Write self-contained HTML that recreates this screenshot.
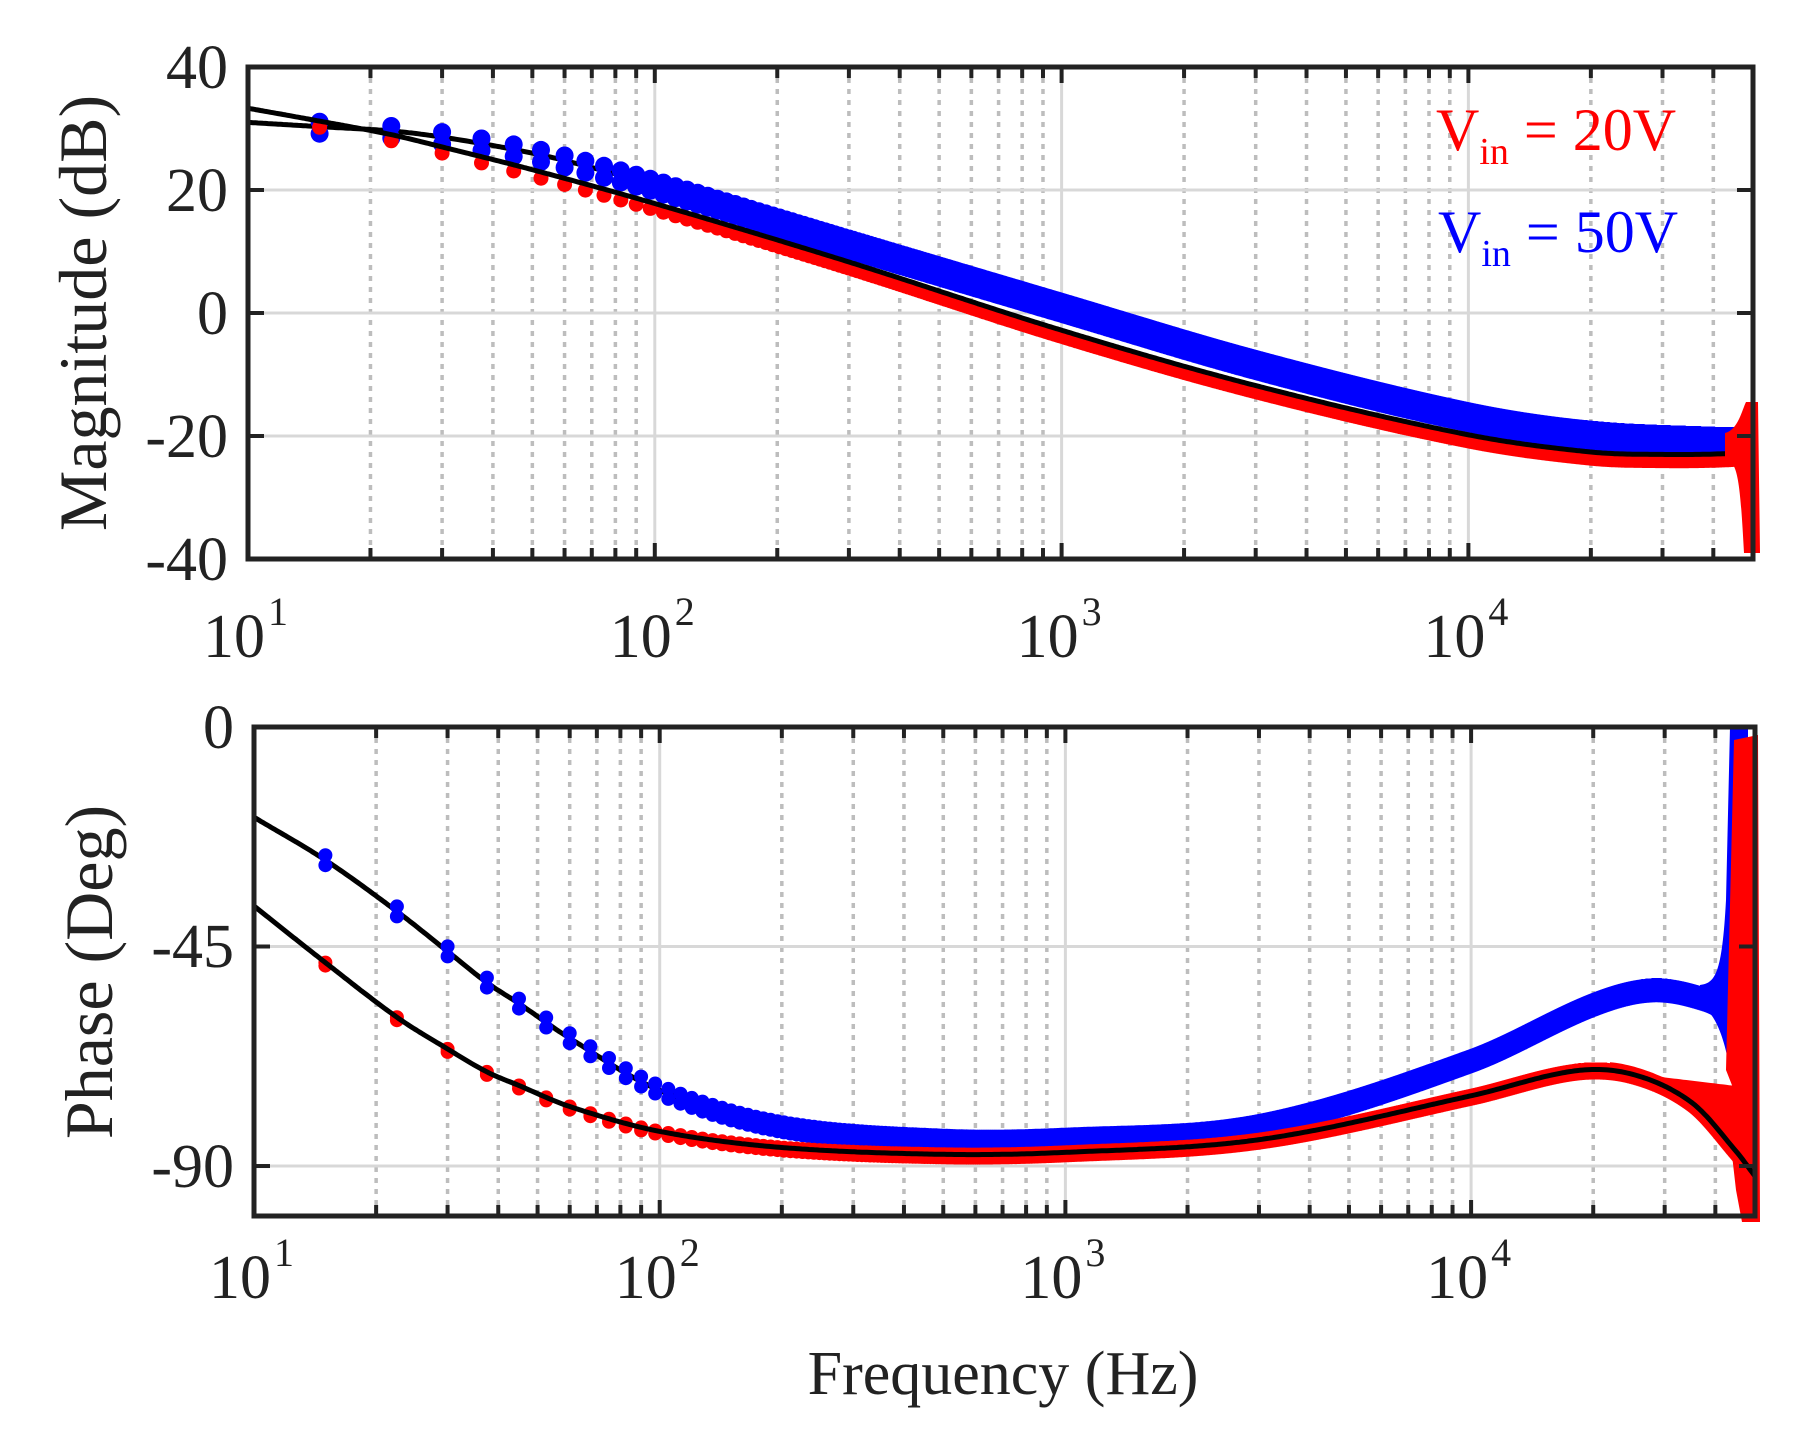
<!DOCTYPE html>
<html><head><meta charset="utf-8">
<style>
html,body{margin:0;padding:0;background:#fff;}
svg{display:block;}
text{font-family:"Liberation Serif",serif;fill:#222;}
</style></head>
<body>
<svg id="s" width="1800" height="1430" viewBox="0 0 1800 1430" xmlns="http://www.w3.org/2000/svg">
<g id="grid"></g>
<g id="data"></g>
<g id="frame"></g>
<g font-size="62">
<text x="228" y="88" text-anchor="end">40</text>
<text x="228" y="211" text-anchor="end">20</text>
<text x="228" y="334" text-anchor="end">0</text>
<text x="228" y="457" text-anchor="end">-20</text>
<text x="228" y="580" text-anchor="end">-40</text>
<text x="234" y="748" text-anchor="end">0</text>
<text x="234" y="967" text-anchor="end">-45</text>
<text x="234" y="1187" text-anchor="end">-90</text>
</g>
<g font-size="62" id="xl"></g>
<text font-size="68" transform="translate(106,313) rotate(-90)" text-anchor="middle">Magnitude (dB)</text>
<text font-size="68" transform="translate(112,972) rotate(-90)" text-anchor="middle">Phase (Deg)</text>
<text font-size="62" x="1003" y="1394" text-anchor="middle">Frequency (Hz)</text>
<text font-size="60" x="1436" y="150" style="fill:#f00">V<tspan font-size="38" dy="14">in</tspan><tspan dy="-14"> = 20V</tspan></text>
<text font-size="60" x="1438" y="252" style="fill:#00f">V<tspan font-size="38" dy="14">in</tspan><tspan dy="-14"> = 50V</tspan></text>
</svg>
<script>
const NS="http://www.w3.org/2000/svg";
function el(p,t,a){const e=document.createElementNS(NS,t);for(const k in a)e.setAttribute(k,a[k]);p.appendChild(e);return e;}
const P=[{x0:248,x1:1753,y0:67,y1:559,X:f=>248+(Math.log10(f)-1)*406.8,Y:v=>313-v*6.15,yt:[40,20,0,-20,-40]},
         {x0:254,x1:1755,y0:727,y1:1216,X:f=>254+(Math.log10(f)-1)*405.7,Y:v=>727-v*4.878,yt:[0,-45,-90]}];
const G=document.getElementById('grid'),D=document.getElementById('data'),F=document.getElementById('frame'),XL=document.getElementById('xl');
P.forEach((p,i)=>{
  for(let d=1;d<=4;d++)for(let m=1;m<=9;m++){
    const f=m*Math.pow(10,d);const x=p.X(f);if(x>p.x1-2)continue;
    if(m==1){ if(d>1) el(G,'line',{x1:x,x2:x,y1:p.y0,y2:p.y1,stroke:'#d8d8d8','stroke-width':3});}
    else el(G,'line',{x1:x,x2:x,y1:p.y0,y2:p.y1,stroke:'#bdbdbd','stroke-width':3.5,'stroke-dasharray':'5 6'});
    const L=m==1?16:11;
    el(F,'line',{x1:x,x2:x,y1:p.y0,y2:p.y0+L,stroke:'#222','stroke-width':4});
    el(F,'line',{x1:x,x2:x,y1:p.y1,y2:p.y1-L,stroke:'#222','stroke-width':4});
  }
  p.yt.forEach(v=>{const y=p.Y(v);
    if(y>p.y0+3&&y<p.y1-3) el(G,'line',{x1:p.x0,x2:p.x1,y1:y,y2:y,stroke:'#d8d8d8','stroke-width':3});
    el(F,'line',{x1:p.x0,x2:p.x0+16,y1:y,y2:y,stroke:'#222','stroke-width':4});
    el(F,'line',{x1:p.x1,x2:p.x1-16,y1:y,y2:y,stroke:'#222','stroke-width':4});});
  el(F,'rect',{x:p.x0,y:p.y0,width:p.x1-p.x0,height:p.y1-p.y0,fill:'none',stroke:'#222','stroke-width':5});
  const by=i==0?657:1298;
  [1,2,3,4].forEach(d=>{const x=p.X(Math.pow(10,d));
    const t=el(XL,'text',{x:x-14,y:by,'text-anchor':'middle'});t.textContent='10';
    const s=el(XL,'text',{x:x+20,y:by-32,'font-size':40});s.textContent=String(d);});
});
function interp(pts){const xs=pts.map(p=>Math.log10(p[0])),ys=pts.map(p=>p[1]);
 return f=>{const x=Math.log10(f);let i=0;while(i<xs.length-2&&x>xs[i+1])i++;
  const t=(x-xs[i])/(xs[i+1]-xs[i]);
  const y0=ys[Math.max(i-1,0)],y1=ys[i],y2=ys[i+1],y3=ys[Math.min(i+2,ys.length-1)];
  const x0=xs[Math.max(i-1,0)],x3=xs[Math.min(i+2,xs.length-1)];
  const m1=(y2-y0)/(xs[i+1]-x0)*(xs[i+1]-xs[i]),m2=(y3-y1)/(x3-xs[i])*(xs[i+1]-xs[i]);
  const t2=t*t,t3=t2*t;
  return (2*t3-3*t2+1)*y1+(t3-2*t2+t)*m1+(-2*t3+3*t2)*y2+(t3-t2)*m2;};}
const magR=interp([[10,33.3],[15,31.2],[22.5,29],[30,27],[50,23.3],[100,17.8],[300,8.3],[1000,-2.8],[3000,-11.8],[10000,-19.8],[20000,-22.6],[30000,-23],[45000,-22.8],[50000,-22.2]]);
const magB=interp([[10,31],[15,30.3],[22.5,29.6],[30,28.6],[45,26.6],[60,24.8],[100,20.8],[300,11.3],[1000,1],[3000,-8.3],[10000,-16.8],[20000,-19.8],[40000,-20.8],[50000,-20.8]]);
const phB=interp([[10,-18.5],[15,-27.3],[22.5,-37.8],[30,-46],[37.5,-52.4],[45,-56.7],[60,-63.8],[100,-74.5],[200,-82],[500,-84.8],[1000,-84.6],[3000,-81.8],[10000,-68.5],[20000,-57],[28000,-54],[38000,-56],[45000,-59.5],[48000,-61]]);
const phR=interp([[10,-36.7],[15,-48.3],[22.5,-59.5],[30,-66],[37.5,-70.7],[45,-73.5],[60,-77.8],[100,-82.9],[200,-86.2],[500,-87.6],[1000,-87.2],[3000,-84.6],[10000,-75.6],[18000,-70.5],[25000,-71.2],[35000,-77],[45000,-87],[50000,-92]]);
function line(p,fn,fa,fb,w,c){let d='';for(let i=0;i<=600;i++){const f=fa*Math.pow(fb/fa,i/600);d+=(i?'L':'M')+p.X(f).toFixed(1)+' '+p.Y(fn(f)).toFixed(1);}
 el(D,'path',{d:d,fill:'none',stroke:c,'stroke-width':w,'stroke-linejoin':'round'});}
function dots(p,fn,off,c,w){let d='';for(let f=15;f<=48500;f+=7.5){const x=p.X(f).toFixed(1);
  off.forEach(o=>{d+='M'+x+' '+(p.Y(fn(f))+o).toFixed(1)+'h0';});}
 el(D,'path',{d:d,stroke:c,'stroke-width':w,'stroke-linecap':'round',fill:'none'});}
const T=P[0],B=P[1];
// magnitude
line(T,magB,10,50000,5,'#000');
dots(T,magB,[-5,7],'#0000ff',18);
dots(T,f=>magR(f)-1,[0],'#ff0000',15);
line(T,magR,10,50000,5,'#000');
el(D,'path',{d:'M1725 433 C1738 430 1742 410 1746 402 L1758 402 L1760 553 L1744 553 C1740 480 1738 462 1725 458 Z',fill:'#ff0000'});
// phase
line(B,phB,10,46000,5,'#000');
dots(B,phB,[-5,5],'#0000ff',14);
el(D,'path',{d:'M1700 985 C1715 983 1722 975 1726 900 L1730 727 L1748 727 L1748 1000 L1728 1060 C1722 1030 1712 1010 1700 1005 Z',fill:'#0000ff'});
dots(B,phR,[0,3],'#ff0000',14);
// red flare region
(function(){let up=[],lo=[];
 for(let i=0;i<=40;i++){const f=22000*Math.pow(44000/22000,i/40);const x=B.X(f);
   const yc=B.Y(phR(f));const t=i/40;
   up.push([x,Math.min(yc-8,B.Y(-70.5-3*t))]);lo.push([x,yc+9]);}
 let d='M'+up.map(p=>p[0].toFixed(1)+' '+p[1].toFixed(1)).join('L');
 d+='L1726 1070 L1734 740 L1758 735 L1760 1222 L1742 1222 L1736 1190';
 d+='L'+lo.reverse().map(p=>p[0].toFixed(1)+' '+p[1].toFixed(1)).join('L')+'Z';
 el(D,'path',{d:d,fill:'#ff0000'});})();
line(B,phR,10,50000,5,'#000');
</script>
</body></html>
